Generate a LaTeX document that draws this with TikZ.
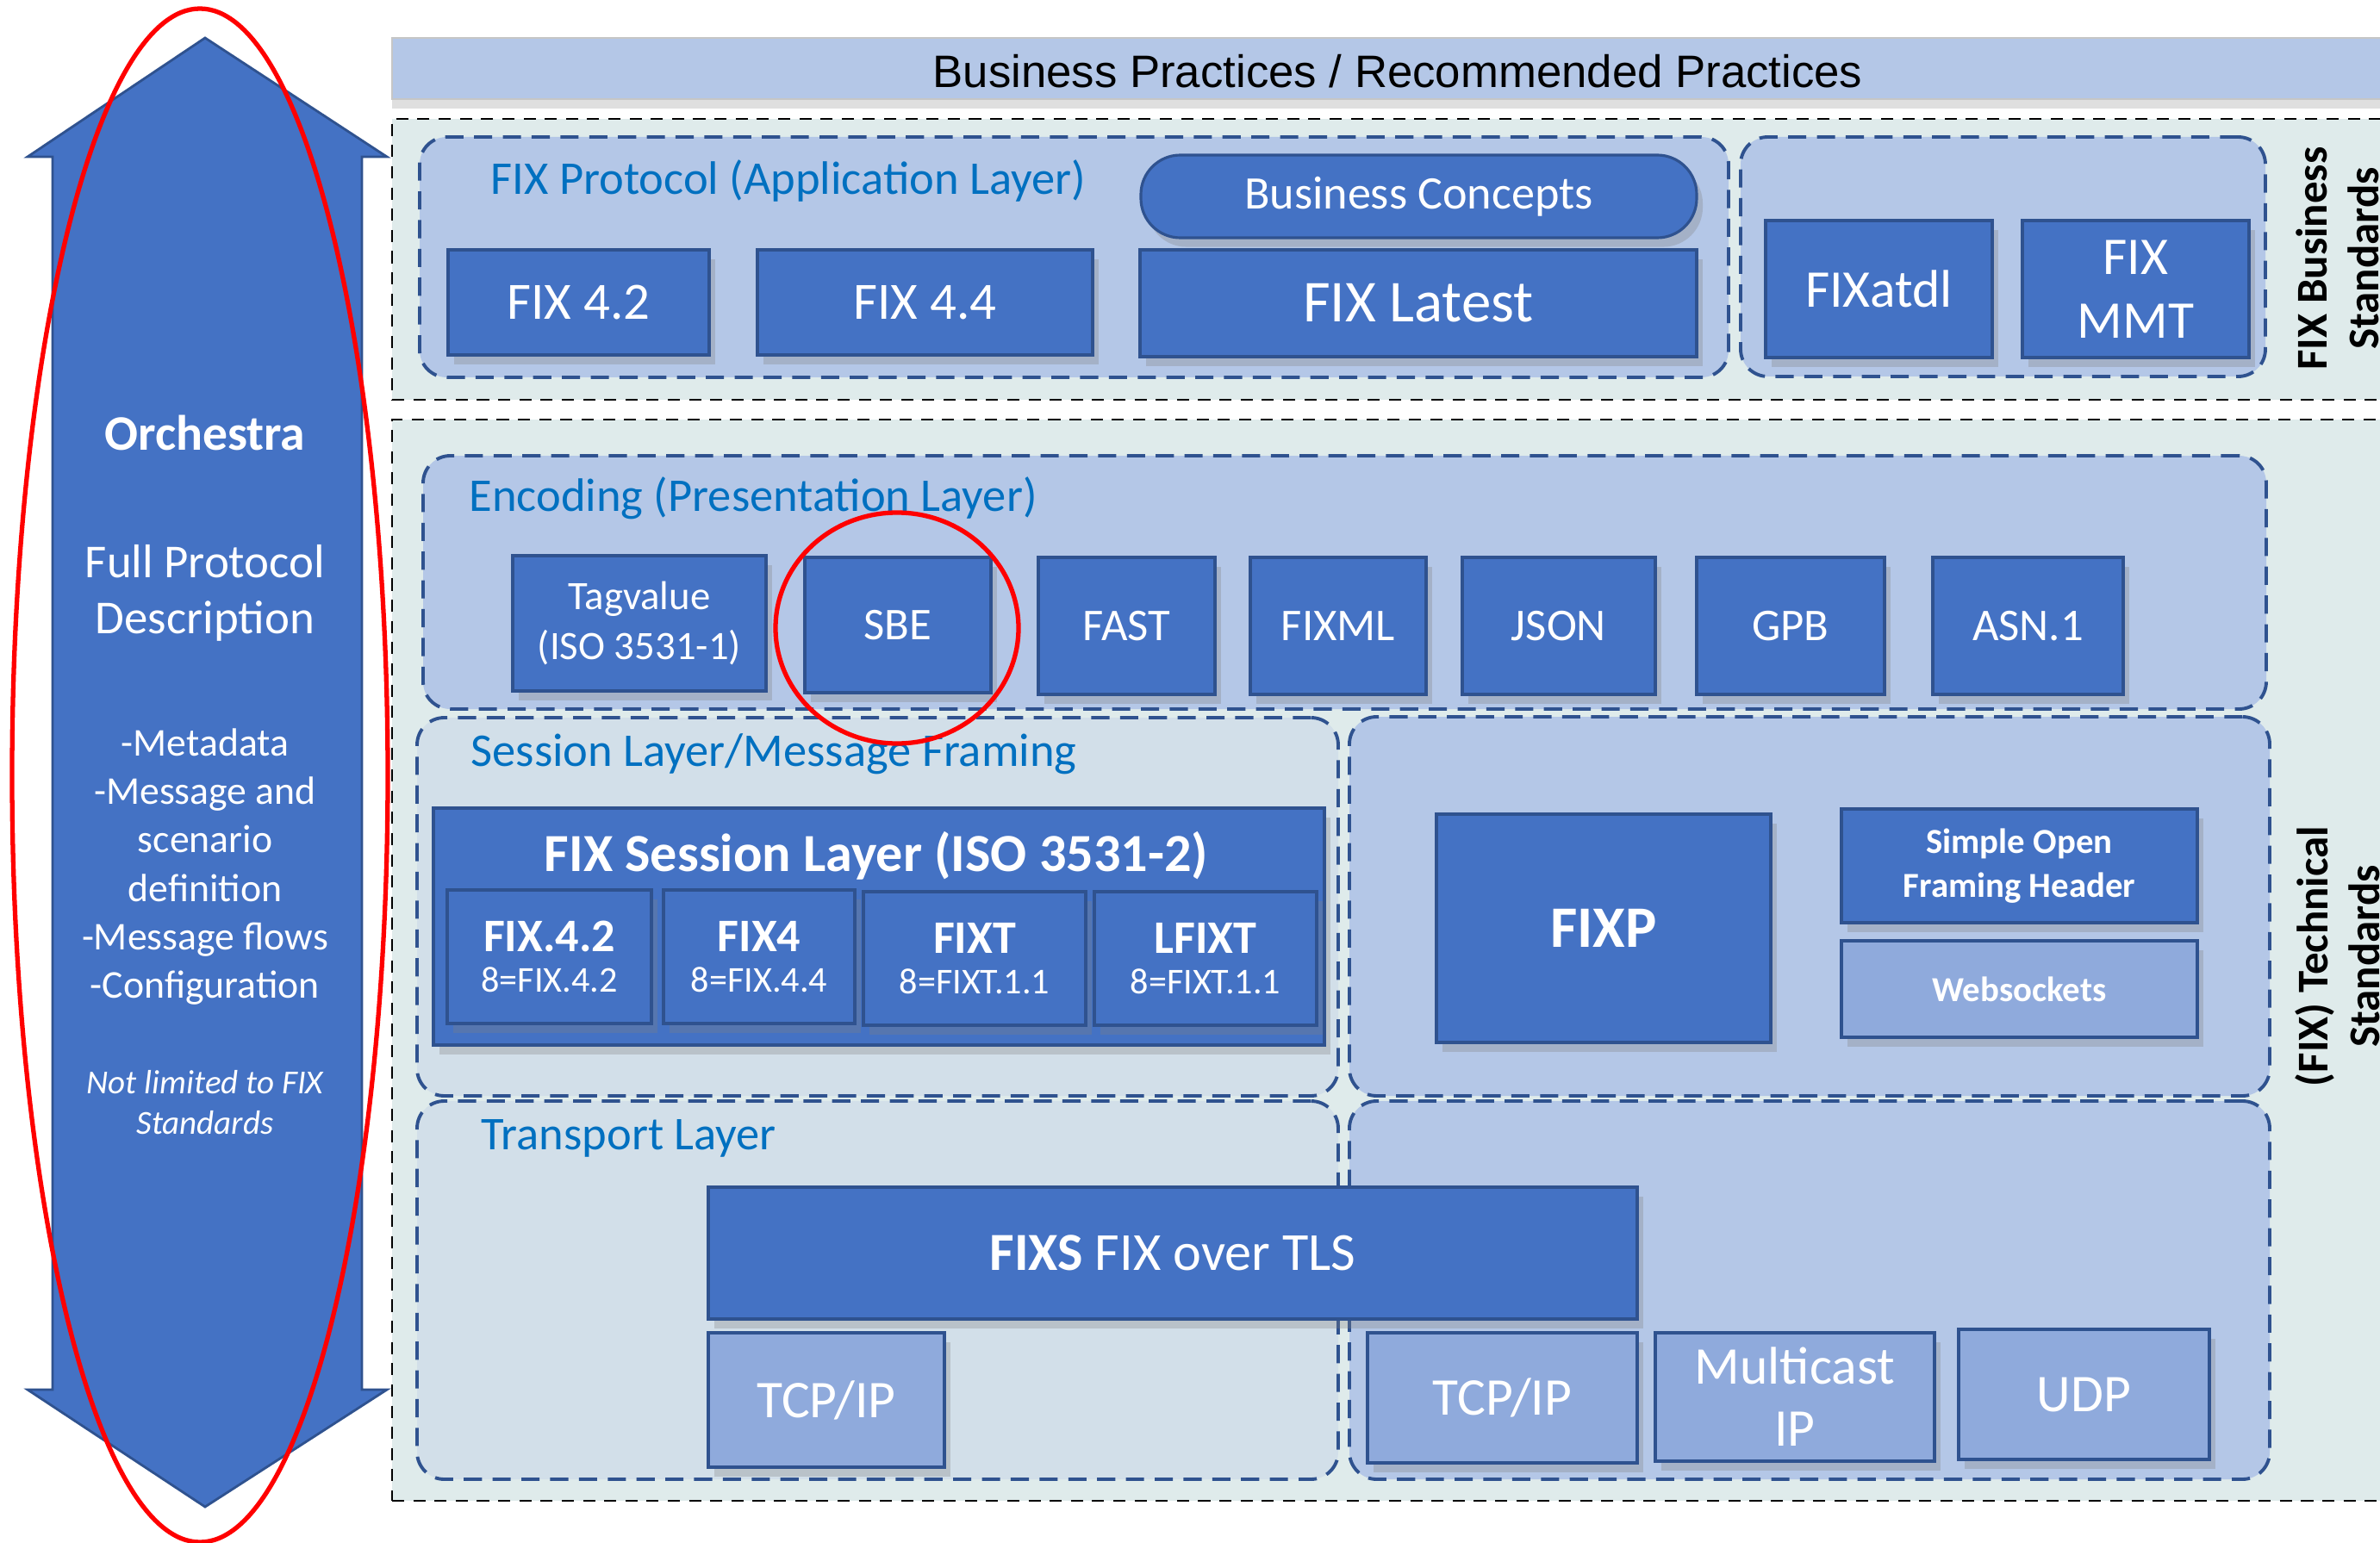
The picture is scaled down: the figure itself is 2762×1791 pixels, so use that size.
\documentclass[tikz,border=0pt]{standalone}
\usepackage{fontspec}
\setmainfont{Carlito}
\newfontfamily\arialfont{Liberation Sans}
\usetikzlibrary{shadows}
\definecolor{fixblaa}{HTML}{4472C4}
\definecolor{fixkant}{HTML}{2F528F}
\definecolor{fixlys}{HTML}{8FAADC}
\definecolor{fixlag}{HTML}{B4C7E7}
\definecolor{fixgraa}{HTML}{DFEBEB}
\definecolor{fixsesj}{HTML}{D2DFE9}
\definecolor{fixtekst}{HTML}{0070C0}
\newcommand{\fs}[2]{\fontsize{#1}{#2}\selectfont}

\begin{document}
\begin{tikzpicture}[
        x=0.01cm, y=-0.01cm,
        ramme/.style n args={4}{at={({(#1+#3)/2},{(#2+#4)/2})},
                       minimum width={(#3-#1)*0.01cm}, minimum height={(#4-#2)*0.01cm}},
        boks/.style = {rectangle, draw=fixkant, line width=0.9pt, fill=fixblaa, text=white,
                       inner sep=0pt, align=center,
                       drop shadow={shadow xshift=2pt, shadow yshift=-3pt, opacity=0.3}},
        lysboks/.style = {boks, fill=fixlys},
        lag/.style = {rectangle, rounded corners=9pt, draw=fixkant, line width=1.1pt,
                      dash pattern=on 6pt off 3.5pt, fill=fixlag, inner sep=0pt},
        sone/.style = {rectangle, draw=black, line width=0.8pt,
                       dash pattern=on 4pt off 3pt, fill=fixgraa, inner sep=0pt},
        lagnavn/.style = {anchor=west, inner sep=0pt, text=fixtekst, font=\fs{15.5}{18}},
        sidenavn/.style = {rotate=90, align=center, font=\bfseries\fs{14.5}{17}},
        hvit/.style = {text=white, align=center, inner sep=0pt},
        ring/.style = {draw=red, line width=1.5pt}
        ]
        \fill[white] (0,0) rectangle (2762,1791);
        \useasboundingbox (0,0) rectangle (2762,1791);

        % Orchestra arrow
        \draw[fill=fixblaa, draw=fixkant, line width=0.8pt]
            (238,44) -- (449,182) -- (420,182) -- (420,1613) -- (449,1613) -- (238,1749)
            -- (32,1613) -- (61,1613) -- (61,182) -- (32,182) -- cycle;
        \node[hvit, font=\bfseries\fs{16.4}{20}] (orkester) at (238,502) {Orchestra};
        \node[hvit, font=\fs{15.6}{18.5}] (beskrivelse) at (238,688) {Full Protocol\\Description};
        \node[hvit, font=\fs{13}{16}] (punkter) at (238,1006)
            {-Metadata\\-Message and\\scenario\\definition\\-Message flows\\-Configuration};
        \node[hvit, font=\itshape\fs{11.1}{13.4}] (merknad) at (238,1280) {Not limited to FIX\\Standards};

        % top bar
        \node[rectangle, fill=fixlag, draw=gray!45, line width=0.8pt, inner sep=0pt,
              drop shadow={shadow xshift=0pt, shadow yshift=-3pt, opacity=0.25},
              font=\arialfont\fs{15}{18}, ramme={455}{44}{2800}{115}] (praksis) {};
        \node[inner sep=0pt, font=\arialfont\fs{15}{18}] (praksistekst) at (1622,83)
            {Business Practices / Recommended Practices};

        % zones
        \node[sone, ramme={455}{138}{2800}{464}] (forretning) {};
        \node[sone, ramme={455}{487}{2800}{1742}] (teknisk) {};
        \node[sidenavn] (forretningnavn) at (2713,300) {FIX Business\\Standards};
        \node[sidenavn] (tekniknavn) at (2713,1110) {(FIX) Technical\\Standards};

        % application layer
        \node[lag, ramme={487}{159}{2006}{438}] (applag) {};
        \node[lag, ramme={2020}{159}{2629}{437}] (fixverk) {};
        \node[lagnavn] (appnavn) at (569,210) {FIX Protocol (Application Layer)};
        \node[boks, font=\fs{17.3}{21}, ramme={520}{290}{823}{412}] (fix42) {FIX 4.2};
        \node[boks, font=\fs{17.3}{21}, ramme={879}{290}{1268}{412}] (fix44) {FIX 4.4};
        \node[boks, rounded corners=13pt, font=\fs{15.4}{18}, ramme={1324}{180}{1969}{276}] (konsept) {Business Concepts};
        \node[boks, font=\fs{19.6}{23}, ramme={1323}{290}{1969}{414}] (latest) {FIX Latest};
        \node[boks, font=\fs{17.5}{21}, ramme={2049}{256}{2312}{415}] (atdl) {FIXatdl};
        \node[boks, font=\fs{17.5}{21}, ramme={2347}{256}{2610}{415}] (mmt) {FIX\\MMT};

        % encoding
        \node[lag, ramme={491}{529}{2630}{823}] (koding) {};
        \node[lagnavn] (kodenavn) at (544,578) {Encoding (Presentation Layer)};
        \node[boks, font=\fs{13.3}{16.5}, ramme={595}{645}{889}{802}] (tagvalue) {Tagvalue\\(ISO 3531-1)};
        \node[boks, font=\fs{15}{18}, ramme={934}{647}{1150}{804}] (sbe) {SBE};
        \node[boks, font=\fs{15}{18}, ramme={1205}{647}{1410}{806}] (fast) {FAST};
        \node[boks, font=\fs{15}{18}, ramme={1451}{647}{1655}{806}] (fixml) {FIXML};
        \node[boks, font=\fs{15}{18}, ramme={1697}{647}{1921}{806}] (json) {JSON};
        \node[boks, font=\fs{15}{18}, ramme={1969}{647}{2187}{806}] (gpb) {GPB};
        \node[boks, font=\fs{15}{18}, ramme={2243}{647}{2464}{806}] (asn) {ASN.1};

        % session layer
        \node[lag, fill=fixsesj, ramme={484}{833}{1553}{1272}] (sesjon) {};
        \node[lag, ramme={1566}{832}{2634}{1272}] (fixpsone) {};
        \node[lagnavn] (sesjonnavn) at (546,875) {Session Layer/Message Framing};
        \node[boks, ramme={503}{938}{1537}{1213}] (sesjonlag) {};
        \node[hvit, font=\bfseries\fs{17.7}{21}] (sesjontittel) at (1017,993) {FIX Session Layer (ISO 3531-2)};
        \node[boks, font=\fs{15.4}{17}, ramme={519}{1033}{756}{1188}] (fix42s)
            {\textbf{FIX.4.2}\\[-3.5pt]{\fs{12}{14}8=FIX.4.2}};
        \node[boks, font=\fs{15.4}{17}, ramme={770}{1033}{992}{1188}] (fix4s)
            {\textbf{FIX4}\\[-3.5pt]{\fs{12}{14}8=FIX.4.4}};
        \node[boks, font=\fs{15.4}{17}, ramme={1002}{1035}{1260}{1190}] (fixts)
            {\textbf{FIXT}\\[-3.5pt]{\fs{12}{14}8=FIXT.1.1}};
        \node[boks, font=\fs{15.4}{17}, ramme={1270}{1035}{1528}{1190}] (lfixts)
            {\textbf{LFIXT}\\[-3.5pt]{\fs{12}{14}8=FIXT.1.1}};
        \node[boks, font=\bfseries\fs{19.4}{23}, ramme={1667}{945}{2055}{1210}] (fixp) {FIXP};
        \node[boks, font=\bfseries\fs{11.6}{14.5}, ramme={2137}{939}{2550}{1071}] (sofh) {Simple Open\\Framing Header};
        \node[lysboks, font=\bfseries\fs{11.6}{14.5}, ramme={2137}{1092}{2550}{1204}] (websockets) {Websockets};

        % transport layer
        \node[lag, fill=fixsesj, ramme={484}{1278}{1553}{1717}] (transport) {};
        \node[lag, ramme={1566}{1278}{2634}{1717}] (transporthoyre) {};
        \node[lagnavn] (transportnavn) at (558,1321) {Transport Layer};
        \node[boks, font=\fs{17.7}{21}, ramme={822}{1378}{1900}{1531}] (fixs) {\textbf{FIXS} FIX over TLS};
        \node[lysboks, font=\fs{17.5}{21}, ramme={822}{1547}{1096}{1703}] (tcpip) {TCP/IP};
        \node[lysboks, font=\fs{17.5}{21}, ramme={1587}{1547}{1900}{1698}] (tcpip2) {TCP/IP};
        \node[lysboks, font=\fs{17.5}{20.5}, ramme={1921}{1547}{2245}{1696}] (multicast) {Multicast\\IP};
        \node[lysboks, font=\fs{17.5}{21}, ramme={2273}{1543}{2564}{1694}] (udp) {UDP};

        % red rings
        \draw[ring] (232,900) ellipse [x radius=218, y radius=890];
        \draw[ring] (1041,729) ellipse [x radius=141, y radius=134];
\end{tikzpicture}
\end{document}
